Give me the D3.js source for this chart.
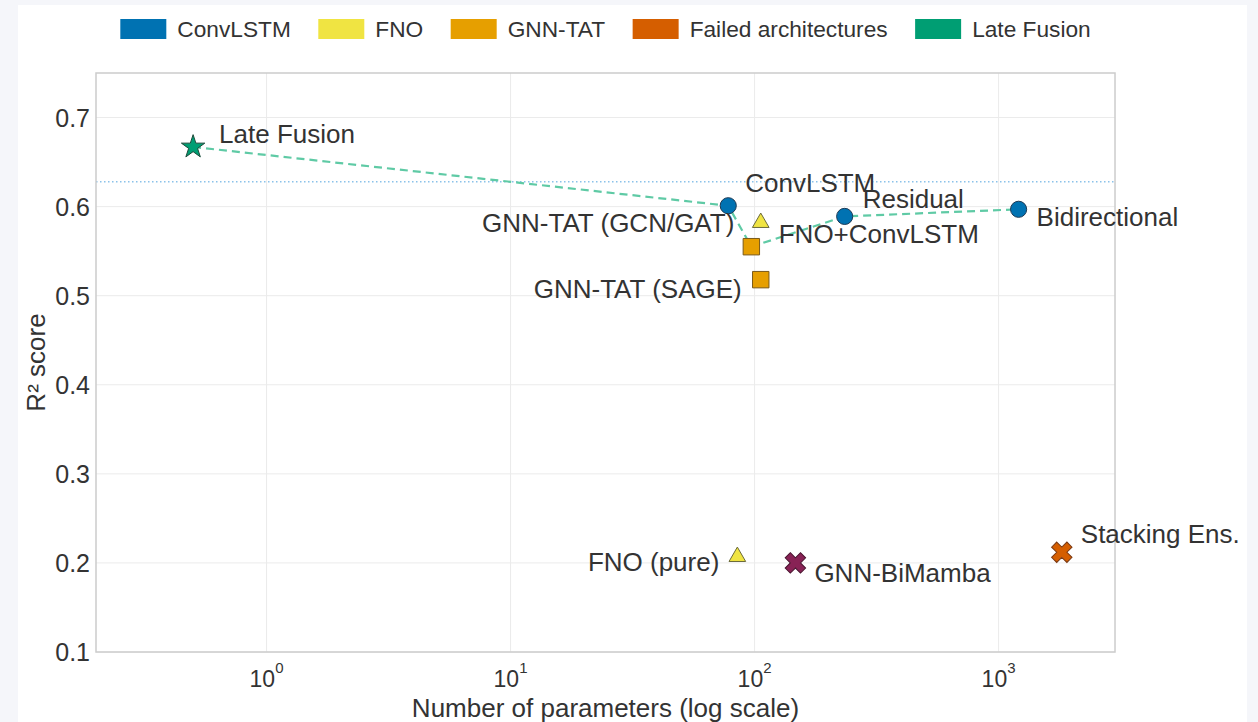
<!DOCTYPE html>
<html>
<head>
<meta charset="utf-8">
<script src="https://cdn.jsdelivr.net/npm/d3@7"></script>
<style>
  body { margin: 0; background: #f5f6fa; }
  svg { display: block; font-family: "Liberation Sans", Arial, Helvetica, sans-serif; }
  .tick-label, .point-label { fill: #333; }
</style>
</head>
<body>
<svg id="vis" width="1258" height="722"></svg>
<script>
// model names, parameter counts and R² scores
const models = ["Late Fusion", "ConvLSTM", "FNO+ConvLSTM", "GNN-TAT (GCN/GAT)", "GNN-TAT (SAGE)",
  "Residual", "Bidirectional", "FNO (pure)", "GNN-BiMamba", "Stacking Ens."];
const params = [0.5, 78, 106, 97, 106, 234, 1208, 85, 147, 1816];
const r2 = [0.667, 0.601, 0.582, 0.555, 0.518, 0.589, 0.597, 0.207, 0.200, 0.212];
const family = ["Late Fusion", "ConvLSTM", "FNO", "GNN-TAT", "GNN-TAT",
  "ConvLSTM", "ConvLSTM", "FNO", "BiMamba", "Failed architectures"];

// models on the dashed frontier, in order
const frontier = ["Late Fusion", "ConvLSTM", "GNN-TAT (GCN/GAT)", "Residual", "Bidirectional"];
const referenceR2 = 0.628;

const legendNames = ["ConvLSTM", "FNO", "GNN-TAT", "Failed architectures", "Late Fusion"];
const yTicks = [0.1, 0.2, 0.3, 0.4, 0.5, 0.6, 0.7];
const xTicks = [1, 10, 100, 1000];

const colors = {
  "ConvLSTM": "#0072B2",
  "FNO": "#F0E442",
  "GNN-TAT": "#E69F00",
  "Failed architectures": "#D55E00",
  "Late Fusion": "#009E73",
  "BiMamba": "#882255"
};
const strokes = {
  "ConvLSTM": "#1d3a55",
  "FNO": "#6b6a3a",
  "GNN-TAT": "#7a5a1a",
  "Failed architectures": "#7a3a14",
  "Late Fusion": "#1d4a3a",
  "BiMamba": "#4a1530"
};

// label placement relative to the marker
const labelPos = {
  "Late Fusion": { dx: 26, dy: -4, anchor: "start" },
  "ConvLSTM": { dx: 17, dy: -14, anchor: "start" },
  "FNO+ConvLSTM": { dx: 18, dy: 20, anchor: "start" },
  "GNN-TAT (GCN/GAT)": { dx: -17, dy: -15, anchor: "end" },
  "GNN-TAT (SAGE)": { dx: -19, dy: 18, anchor: "end" },
  "Residual": { dx: 18, dy: -8, anchor: "start" },
  "Bidirectional": { dx: 18, dy: 17, anchor: "start" },
  "FNO (pure)": { dx: -18, dy: 14, anchor: "end" },
  "GNN-BiMamba": { dx: 19, dy: 19, anchor: "start" },
  "Stacking Ens.": { dx: 19, dy: -9, anchor: "start" }
};

const data = models.map((m, i) => ({ name: m, params: params[i], r2: r2[i], family: family[i] }));

const svg = d3.select("svg#vis");

// white card over the page background
svg.append("rect")
  .attr("x", 18).attr("y", 5)
  .attr("width", 1229).attr("height", 722)
  .attr("fill", "#ffffff");

const plot = { left: 96, right: 1115, top: 73, bottom: 652 };

const x = d3.scaleLog().domain([0.2, 3000]).range([plot.left, plot.right]);
const y = d3.scaleLinear().domain([0.1, 0.75]).range([plot.bottom, plot.top]);

// grid
svg.append("g").selectAll("line.hgrid")
  .data(yTicks)
  .enter()
  .append("line")
  .attr("x1", plot.left).attr("x2", plot.right)
  .attr("y1", d => y(d)).attr("y2", d => y(d))
  .attr("stroke", "#ebebeb").attr("stroke-width", 1);

svg.append("g").selectAll("line.vgrid")
  .data(xTicks)
  .enter()
  .append("line")
  .attr("x1", d => x(d)).attr("x2", d => x(d))
  .attr("y1", plot.top).attr("y2", plot.bottom)
  .attr("stroke", "#ebebeb").attr("stroke-width", 1);

// reference line
svg.append("line")
  .attr("x1", plot.left).attr("x2", plot.right)
  .attr("y1", y(referenceR2)).attr("y2", y(referenceR2))
  .attr("stroke", "#5aa8e0")
  .attr("stroke-opacity", 0.7)
  .attr("stroke-width", 1.5)
  .attr("stroke-dasharray", "1.5,2.5");

// frame
svg.append("rect")
  .attr("x", plot.left).attr("y", plot.top)
  .attr("width", plot.right - plot.left).attr("height", plot.bottom - plot.top)
  .attr("fill", "none")
  .attr("stroke", "#cccccc").attr("stroke-width", 1.5);

// y tick labels
svg.append("g").selectAll("text")
  .data(yTicks)
  .enter()
  .append("text")
  .attr("class", "tick-label")
  .attr("x", 90)
  .attr("y", d => y(d) + 9)
  .attr("text-anchor", "end")
  .attr("font-size", 25)
  .text(d => d3.format(".1f")(d));

// x tick labels (10 with superscript exponent)
const xt = svg.append("g").selectAll("text")
  .data(xTicks)
  .enter()
  .append("text")
  .attr("class", "tick-label")
  .attr("x", d => x(d))
  .attr("y", 687)
  .attr("text-anchor", "middle")
  .attr("font-size", 23);
xt.append("tspan").text("10");
xt.append("tspan")
  .attr("dy", -14)
  .attr("font-size", 15)
  .text(d => Math.round(Math.log10(d)));

// axis titles
svg.append("text")
  .attr("class", "tick-label")
  .attr("x", (plot.left + plot.right) / 2)
  .attr("y", 717)
  .attr("text-anchor", "middle")
  .attr("font-size", 26)
  .text("Number of parameters (log scale)");

svg.append("text")
  .attr("class", "tick-label")
  .attr("transform", "translate(45," + ((plot.top + plot.bottom) / 2) + ") rotate(-90)")
  .attr("text-anchor", "middle")
  .attr("font-size", 26)
  .text("R² score");

// dashed frontier line
const frontierData = frontier.map(n => data.find(d => d.name === n));
const line = d3.line().x(d => x(d.params)).y(d => y(d.r2));
svg.append("path")
  .datum(frontierData)
  .attr("d", line)
  .attr("fill", "none")
  .attr("stroke", "#5fcaa5")
  .attr("stroke-width", 2.2)
  .attr("stroke-dasharray", "8,5");

// markers
function symbolFor(d) {
  if (d.family === "Late Fusion") return d3.symbol(d3.symbolStar, 170)();
  if (d.family === "ConvLSTM") return d3.symbol(d3.symbolCircle, 205)();
  if (d.family === "FNO") return d3.symbol(d3.symbolTriangle, 120)();
  if (d.family === "GNN-TAT") return d3.symbol(d3.symbolSquare, 270)();
  return d3.symbol(d3.symbolCross, 260)();
}

svg.append("g").selectAll("path.symbol")
  .data(data)
  .enter()
  .append("path")
  .attr("class", "symbol")
  .attr("d", symbolFor)
  .attr("transform", d => {
    const rot = (d.family === "BiMamba" || d.family === "Failed architectures") ? " rotate(45)" : "";
    return "translate(" + x(d.params) + "," + y(d.r2) + ")" + rot;
  })
  .attr("fill", d => colors[d.family])
  .attr("stroke", d => strokes[d.family])
  .attr("stroke-width", 1);

// point labels
svg.append("g").selectAll("text")
  .data(data)
  .enter()
  .append("text")
  .attr("class", "point-label")
  .attr("x", d => x(d.params) + labelPos[d.name].dx)
  .attr("y", d => y(d.r2) + labelPos[d.name].dy)
  .attr("text-anchor", d => labelPos[d.name].anchor)
  .attr("font-size", 26)
  .text(d => d.name);

// legend across the top, centred over the plot
const legend = svg.append("g");
const items = legend.selectAll("g")
  .data(legendNames)
  .enter()
  .append("g");
items.append("rect")
  .attr("width", 46).attr("height", 20)
  .attr("y", 19)
  .attr("fill", d => colors[d]);
items.append("text")
  .attr("class", "tick-label")
  .attr("x", 57)
  .attr("y", 37)
  .attr("font-size", 22.7)
  .text(d => d);

let offset = 0;
items.each(function() {
  const w = d3.select(this).select("text").node().getComputedTextLength();
  d3.select(this).attr("transform", "translate(" + offset + ",0)");
  offset += 57 + w + 27.5;
});
const total = offset - 27.5;
legend.attr("transform", "translate(" + ((plot.left + plot.right) / 2 - total / 2) + ",0)");
</script>
</body>
</html>
